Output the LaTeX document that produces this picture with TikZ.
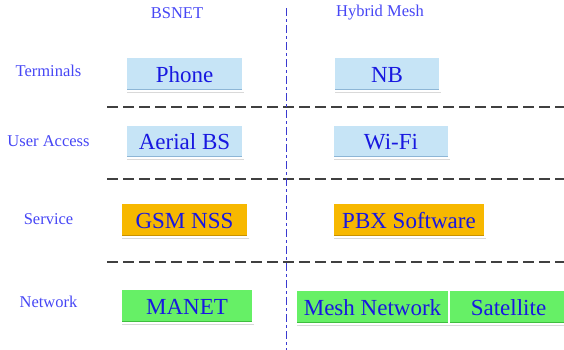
\documentclass[tikz,border=0pt]{standalone}
\usepackage{fontspec}
\setmainfont{Liberation Serif}
\usetikzlibrary{shadows}
\definecolor{lbl}{HTML}{4646F5}
\definecolor{btxt}{HTML}{1818E0}
\definecolor{bluefill}{HTML}{C6E4F6}
\definecolor{bluedark}{HTML}{8DB6D6}
\definecolor{orangefill}{HTML}{F7B800}
\definecolor{orangedark}{HTML}{C99200}
\definecolor{greenfill}{HTML}{66F066}
\definecolor{greendark}{HTML}{3FBE3F}
\definecolor{sepgray}{HTML}{404040}
\definecolor{vline}{HTML}{3A3AD0}
\tikzset{
  rowlabel/.style={font=\fontsize{16.5}{18}\selectfont, text=lbl, inner sep=0pt, anchor=center},
  collabel/.style={font=\fontsize{16.5}{18}\selectfont, text=lbl, inner sep=0pt, anchor=center},
  layerbox/.style n args={2}{draw=white, line width=1.2pt, fill=#1, inner sep=0pt,
    font=\fontsize{23}{26}\selectfont, text=btxt, text height=16pt, text depth=0pt,
    drop shadow={shadow xshift=1.2pt, shadow yshift=-1.5pt, opacity=0.25, fill=black!60},
    path picture={\draw[#2, line width=4pt] (path picture bounding box.south west) -- (path picture bounding box.south east);}},
  bluebox/.style={layerbox={bluefill}{bluedark}},
  orangebox/.style={layerbox={orangefill}{orangedark}},
  greenbox/.style={layerbox={greenfill}{greendark}},
  sepline/.style={sepgray, line width=2.8pt, dash pattern=on 11pt off 5pt},
  divline/.style={vline, line width=1.8pt, dash pattern=on 8pt off 3pt on 3pt off 3pt}
}
\begin{document}
\begin{tikzpicture}[x=1pt, y=-1pt]
\useasboundingbox (0,0) rectangle (564,349);
% column headers
\node[collabel] (bsnet) at (177,13) {BSNET};
\node[collabel] (hybrid) at (380,13) {Hybrid Mesh};
% row labels
\node[rowlabel] (term) at (48.5,71) {Terminals};
\node[rowlabel] (ua) at (48.5,141) {User Access};
\node[rowlabel] (serv) at (48.5,219) {Service};
\node[rowlabel] (net) at (48.5,302) {Network};
% separators
\coordinate (s1a) at (107,107); \coordinate (s1b) at (566,107);
\coordinate (s2a) at (107,179); \coordinate (s2b) at (566,179);
\coordinate (s3a) at (107,262); \coordinate (s3b) at (566,262);
\draw[sepline] (s1a) -- (s1b);
\draw[sepline] (s2a) -- (s2b);
\draw[sepline] (s3a) -- (s3b);
\coordinate (vtop) at (286.5,8); \coordinate (vbot) at (286.5,352);
\draw[divline] (vtop) -- (vbot);
% boxes
\node[bluebox, minimum width=117pt, minimum height=34pt] (phone) at (184.5,74) {Phone};
\node[bluebox, minimum width=117pt, minimum height=33pt] (aerial) at (184.5,141.5) {Aerial BS};
\node[bluebox, minimum width=106pt, minimum height=34pt] (nb) at (387,74) {NB};
\node[bluebox, minimum width=116pt, minimum height=33pt] (wifi) at (391,141.5) {Wi-Fi};
\node[orangebox, minimum width=127pt, minimum height=34pt] (gsm) at (184.5,220) {GSM NSS};
\node[orangebox, minimum width=152pt, minimum height=34pt] (pbx) at (409,220) {PBX Software};
\node[greenbox, minimum width=132pt, minimum height=34pt] (manet) at (187,306) {MANET};
\node[greenbox, minimum width=153pt, minimum height=34pt] (mesh) at (372.5,307) {Mesh Network};
\node[greenbox, minimum width=119pt, minimum height=34pt] (sat) at (508.5,307) {Satellite};
\end{tikzpicture}
\end{document}
